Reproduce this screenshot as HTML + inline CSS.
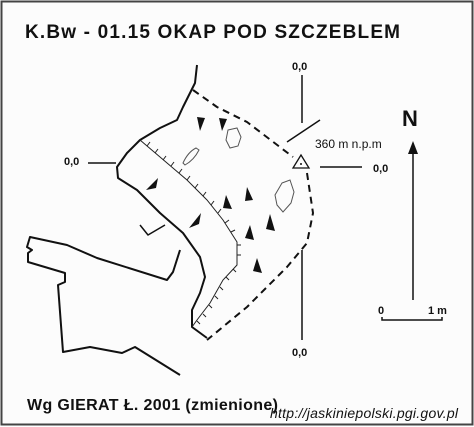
<!DOCTYPE html>
<html><head><meta charset="utf-8"><style>
html,body{margin:0;padding:0;background:#fff}
svg{display:block}
text{font-family:"Liberation Sans",Arial,sans-serif;fill:#111}
</style></head><body>
<svg width="474" height="427" viewBox="0 0 474 427">
<rect x="1.5" y="1.5" width="471" height="423" fill="#fcfcfc" stroke="#444" stroke-width="2"/>
<text x="25" y="38" font-size="19" font-weight="bold" textLength="375">K.Bw - 01.15  OKAP POD SZCZEBLEM</text>
<g fill="none" stroke="#111" stroke-width="2" stroke-linejoin="round">
<polyline points="197,65 195,83 183,107 177,120 160,128 140,140 127,153 117,167 118,178 137,190 160,213 183,233 200,257 205,277 200,293 192,310 192,327 207,338"/>
<polyline points="180,250 173,272 167,280 97,258 67,245 30,237 27,247 32,250 28,253 28,262 65,273 65,282 58,285 63,352 90,347 122,353 135,347 180,375"/>
<polyline stroke-dasharray="7,5" points="193,90 217,107 247,122 293,157"/>
<polyline stroke-dasharray="7,5" points="307,173 313,213 307,243 287,267 247,307 207,340"/>
<polyline stroke-width="1.5" points="140,225 148,235 165,225"/>
</g>
<polyline fill="none" stroke="#222" stroke-width="1" points="140,140 160,157 187,180 207,200 223,220 237,242 237,265 223,280 210,303 197,320 192,327"/>
<g stroke="#222" stroke-width="1">
<line x1="147" y1="146" x2="150" y2="142"/><line x1="155" y1="153" x2="158" y2="149"/><line x1="163" y1="160" x2="166" y2="156"/><line x1="171" y1="166" x2="174" y2="162"/><line x1="179" y1="173" x2="182" y2="169"/><line x1="187" y1="180" x2="190" y2="176"/><line x1="195" y1="188" x2="198" y2="184"/><line x1="203" y1="196" x2="206" y2="192"/><line x1="211" y1="205" x2="214" y2="201"/><line x1="218" y1="213" x2="221" y2="209"/><line x1="225" y1="223" x2="229" y2="220"/><line x1="231" y1="232" x2="235" y2="230"/><line x1="237" y1="245" x2="241" y2="245"/><line x1="237" y1="255" x2="241" y2="255"/><line x1="233" y1="269" x2="236" y2="272"/><line x1="226" y1="277" x2="229" y2="280"/><line x1="220" y1="287" x2="223" y2="290"/><line x1="215" y1="296" x2="218" y2="299"/><line x1="209" y1="305" x2="212" y2="308"/><line x1="203" y1="314" x2="206" y2="317"/><line x1="197" y1="321" x2="200" y2="324"/>
</g>
<g fill="none" stroke="#555" stroke-width="1">
<path d="M228,130 L237,128 L241,137 L238,146 L230,148 L226,140 Z"/>
<path d="M183,163 Q188,152 196,148 L199,150 Q194,160 185,165 Z"/>
<path d="M282,183 L290,180 L294,192 L291,203 L283,212 L277,205 L275,195 Z"/>
</g>
<g fill="#111">
<polygon points="197,117 205,118 200,131"/>
<polygon points="219,118 227,119 222,131"/>
<polygon points="146,190 158,178 156,188"/>
<polygon points="189,228 201,213 199,224"/>
<polygon points="226,195 232,209 223,208"/>
<polygon points="247,187 253,200 245,201"/>
<polygon points="250,225 254,240 245,238"/>
<polygon points="270,214 275,231 266,229"/>
<polygon points="257,258 262,273 253,271"/>
</g>
<g stroke="#111" stroke-width="1.5">
<line x1="302" y1="75" x2="302" y2="123"/>
<line x1="287" y1="142" x2="320" y2="120"/>
<line x1="88" y1="163" x2="116" y2="163"/>
<line x1="320" y1="167" x2="362" y2="167"/>
<line x1="302" y1="250" x2="302" y2="340"/>
</g>
<g font-size="11" font-weight="bold">
<text x="292" y="70">0,0</text><text x="64" y="165">0,0</text><text x="373" y="172">0,0</text><text x="292" y="356">0,0</text>
</g>
<polygon points="301,155 293,168 309,168" fill="none" stroke="#111" stroke-width="1.3"/>
<circle cx="301" cy="164" r="1" fill="#111"/>
<text x="315" y="148" font-size="12" fill="#333">360 m n.p.m</text>
<text x="402" y="126" font-size="22" font-weight="bold">N</text>
<line x1="413" y1="300" x2="413" y2="150" stroke="#111" stroke-width="1.5"/>
<polygon points="413,141 408,154 418,154" fill="#111"/>
<text x="378" y="314" font-size="11" font-weight="bold">0</text>
<text x="428" y="314" font-size="11" font-weight="bold">1 m</text>
<polyline points="382,317 382,320 442,320 442,317" fill="none" stroke="#111" stroke-width="1.5"/>
<text x="27" y="410" font-size="16" font-weight="bold" textLength="251">Wg GIERAT Ł. 2001 (zmienione)</text>
<text x="270" y="418" font-size="14" font-style="italic" textLength="188">http://jaskiniepolski.pgi.gov.pl</text>
</svg>
</body></html>
